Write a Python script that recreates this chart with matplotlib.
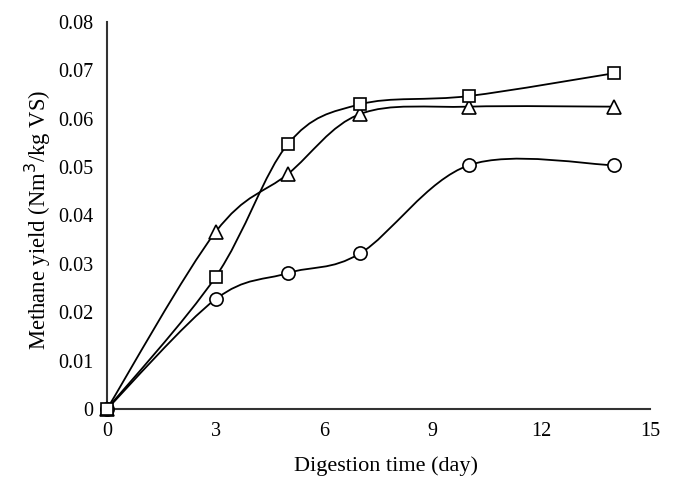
import matplotlib
matplotlib.use("Agg")
import matplotlib.pyplot as plt
import numpy as np
from matplotlib.path import Path
from matplotlib.patches import PathPatch

plt.rcParams["font.family"] = ["Liberation Serif", "DejaVu Serif"]

days = [0, 3, 5, 7, 10, 14]
yield_square = [0.0, 0.0273, 0.0548, 0.0630, 0.0647, 0.0694]
yield_triangle = [0.0, 0.0366, 0.0486, 0.0610, 0.0625, 0.0625]
yield_circle = [0.0, 0.0227, 0.0281, 0.0322, 0.0504, 0.0504]

x_ticks = [0, 3, 6, 9, 12, 15]
y_ticks = [0, 0.01, 0.02, 0.03, 0.04, 0.05, 0.06, 0.07, 0.08]
y_tick_labels = ["0", "0.01", "0.02", "0.03", "0.04", "0.05", "0.06", "0.07", "0.08"]


def smooth_path(xs, ys):
    # Excel-style smoothed line: Catmull-Rom through the points as cubic Beziers
    pts = np.column_stack([xs, ys]).astype(float)
    n = len(pts)
    verts = [pts[0]]
    codes = [Path.MOVETO]
    for i in range(n - 1):
        p0 = pts[i - 1] if i > 0 else pts[i]
        p1 = pts[i]
        p2 = pts[i + 1]
        p3 = pts[i + 2] if i + 2 < n else pts[i + 1]
        c1 = p1 + (p2 - p0) / 6.0
        c2 = p2 - (p3 - p1) / 6.0
        verts += [c1, c2, p2]
        codes += [Path.CURVE4, Path.CURVE4, Path.CURVE4]
    return Path(verts, codes)


fig = plt.figure(figsize=(6.76, 4.86), dpi=100)
ax = fig.add_axes([107 / 676, 1 - 409 / 486, 543 / 676, 387 / 486])

for ys, mk, ms in [(yield_circle, "o", 9.5), (yield_triangle, "^", 10), (yield_square, "s", 8.5)]:
    ax.add_patch(PathPatch(smooth_path(days, ys), facecolor="none", edgecolor="black", lw=1.3, zorder=2))
    ax.plot(days, ys, linestyle="none", marker=mk, markersize=ms, markerfacecolor="white",
            markeredgecolor="black", markeredgewidth=1.2, zorder=3, clip_on=False)

ax.set_xlim(0, 15)
ax.set_ylim(0, 0.08)
ax.set_xticks(x_ticks)
ax.set_yticks(y_ticks)
ax.set_yticklabels(y_tick_labels)
ax.tick_params(axis="both", length=0, labelsize=14.5)
ax.tick_params(axis="y", pad=10)
ax.tick_params(axis="x", pad=9)

for side in ["top", "right"]:
    ax.spines[side].set_visible(False)
for side in ["left", "bottom"]:
    ax.spines[side].set_color("#333333")
    ax.spines[side].set_linewidth(1.5)

ax.set_xlabel("Digestion time (day)", fontsize=16)
ax.set_ylabel("Methane yield (Nm$^3$/kg VS)", fontsize=16.3)
ax.xaxis.set_label_coords(0.514, -0.122)
ax.yaxis.set_label_coords(-0.1, 0.488)

fig.savefig("out.png", dpi=100)
